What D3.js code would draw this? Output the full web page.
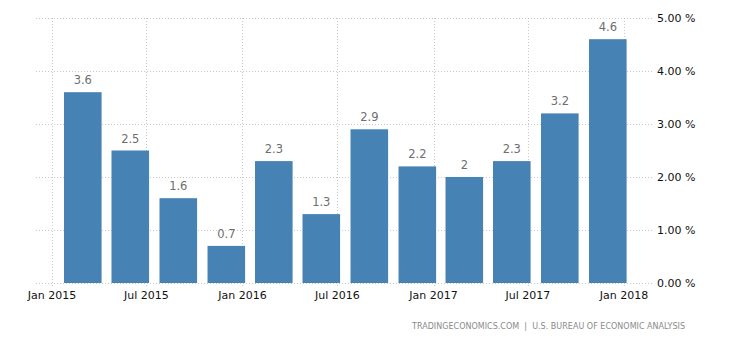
<!DOCTYPE html>
<html>
<head>
<meta charset="utf-8">
<script src="https://cdn.jsdelivr.net/npm/d3@7"></script>
<style>
  html, body { margin: 0; padding: 0; background: #fff; }
  svg { display: block; }
</style>
</head>
<body>
<svg id="chart" width="730" height="340"></svg>
<script>
// Quarterly growth rate, %, by quarter-end date
const quarterEnds = [
  "2015-03-31", "2015-06-30", "2015-09-30", "2015-12-31",
  "2016-03-31", "2016-06-30", "2016-09-30", "2016-12-31",
  "2017-03-31", "2017-06-30", "2017-09-30", "2017-12-31"
];
const values = [3.6, 2.5, 1.6, 0.7, 2.3, 1.3, 2.9, 2.2, 2, 2.3, 3.2, 4.6];
const valueLabels = ["3.6", "2.5", "1.6", "0.7", "2.3", "1.3", "2.9", "2.2", "2", "2.3", "3.2", "4.6"];
const yTicks = [0, 1, 2, 3, 4, 5];
const xTickDates = ["2015-01-01", "2015-07-01", "2016-01-01", "2016-07-01",
                    "2017-01-01", "2017-07-01", "2018-01-01"];
const sourceText = "TRADINGECONOMICS.COM  |  U.S. BUREAU OF ECONOMIC ANALYSIS";

const parse = d3.utcParse("%Y-%m-%d");
const svg = d3.select("#chart");

const plot = { left: 36, right: 654, top: 18, bottom: 283 };

const x = d3.scaleUtc()
  .domain([parse("2015-01-01"), parse("2018-01-01")])
  .range([52, 624]);
const y = d3.scaleLinear().domain([0, 5]).range([plot.bottom, plot.top]);

const fmtTick = d3.utcFormat("%b %Y");
const grid = "#c8c8c8";

// horizontal gridlines
svg.append("g").selectAll("line").data(yTicks).join("line")
  .attr("x1", plot.left).attr("x2", plot.right)
  .attr("y1", d => Math.round(y(d)) + 0.5).attr("y2", d => Math.round(y(d)) + 0.5)
  .attr("stroke", grid).attr("stroke-width", 1).attr("stroke-dasharray", "1,2");

// vertical gridlines at the date ticks
svg.append("g").selectAll("line").data(xTickDates.map(parse)).join("line")
  .attr("x1", d => Math.round(x(d)) + 0.5).attr("x2", d => Math.round(x(d)) + 0.5)
  .attr("y1", plot.top).attr("y2", plot.bottom + 4)
  .attr("stroke", grid).attr("stroke-width", 1).attr("stroke-dasharray", "1,2");

// bars: centred a month before each quarter end
const dates = quarterEnds.map(parse);
const barDate = d => d3.utcDay.offset(d, -30);
const step = x(parse("2015-04-01")) - x(parse("2015-01-01"));
const barW = step * 0.8;

svg.append("g").selectAll("rect").data(values).join("rect")
  .attr("x", (d, i) => x(barDate(dates[i])) - barW / 2)
  .attr("width", barW)
  .attr("y", d => y(d))
  .attr("height", d => y(0) - y(d))
  .attr("fill", "#4682b4");

// value labels above bars
svg.append("g").selectAll("text").data(values).join("text")
  .attr("x", (d, i) => x(barDate(dates[i])))
  .attr("y", d => y(d) - 8)
  .attr("text-anchor", "middle")
  .attr("font-family", "DejaVu Sans, sans-serif")
  .attr("font-size", 11.5)
  .attr("fill", "#6e6e6e")
  .text((d, i) => valueLabels[i]);

// x axis labels
svg.append("g").selectAll("text").data(xTickDates.map(parse)).join("text")
  .attr("x", d => x(d))
  .attr("y", 299)
  .attr("text-anchor", "middle")
  .attr("font-family", "DejaVu Sans, sans-serif")
  .attr("font-size", 11)
  .attr("fill", "#111")
  .text(d => fmtTick(d));

// right y axis labels
svg.append("g").selectAll("text").data(yTicks).join("text")
  .attr("x", 657)
  .attr("y", d => y(d) + 4)
  .attr("font-family", "DejaVu Sans, sans-serif")
  .attr("font-size", 11)
  .attr("fill", "#111")
  .text(d => d3.format(".2f")(d) + " %");

// source line
svg.append("text")
  .attr("x", 412).attr("y", 329)
  .attr("font-family", "DejaVu Sans, sans-serif")
  .attr("font-size", 8)
  .attr("textLength", 273)
  .attr("lengthAdjust", "spacing")
  .attr("fill", "#8a8a8a")
  .attr("xml:space", "preserve")
  .style("white-space", "pre")
  .text(sourceText);
</script>
</body>
</html>
